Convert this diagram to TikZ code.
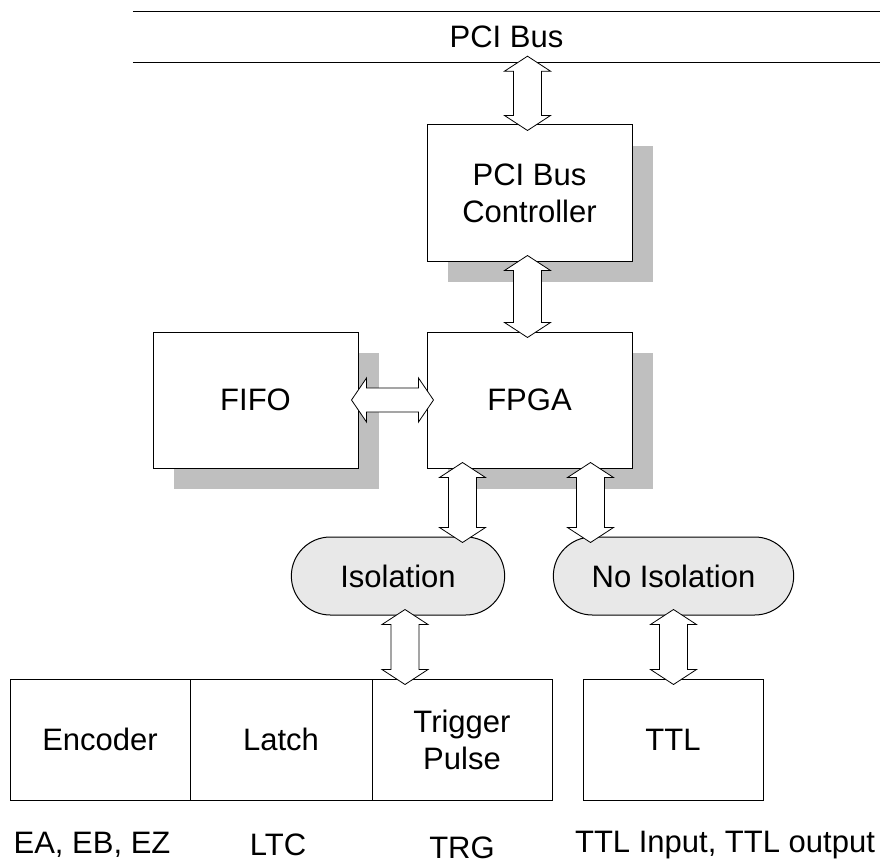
\documentclass[tikz,border=0pt]{standalone}
\usepackage{fontspec}
\setmainfont{Liberation Sans}
\usetikzlibrary{shapes.misc,shadows,calc}

% fat double arrows, tips reach a little into the boxes
\newcommand{\fatv}[2]{%
  \draw[fat] let \p1=#1, \p2=#2 in
    (\x1,\y1+6pt) -- (\x1+23pt,\y1-9pt) -- (\x1+14pt,\y1-9pt)
    -- (\x1+14pt,\y2+9pt) -- (\x1+23pt,\y2+9pt) -- (\x1,\y2-6pt)
    -- (\x1-23pt,\y2+9pt) -- (\x1-14pt,\y2+9pt) -- (\x1-14pt,\y1-9pt)
    -- (\x1-23pt,\y1-9pt) -- cycle;}
\newcommand{\fath}[2]{%
  \draw[fat] let \p1=#1, \p2=#2 in
    (\x1-7pt,\y1) -- (\x1+8pt,\y1+22pt) -- (\x1+8pt,\y1+12pt)
    -- (\x2-8pt,\y1+12pt) -- (\x2-8pt,\y1+22pt) -- (\x2+7pt,\y1)
    -- (\x2-8pt,\y1-22pt) -- (\x2-8pt,\y1-12pt) -- (\x1+8pt,\y1-12pt)
    -- (\x1+8pt,\y1-22pt) -- cycle;}

\begin{document}
\begin{tikzpicture}[x=1pt, y=-1pt, font=\fontsize{31}{37}\selectfont]
        \tikzset{boxes/.style={draw, line width=1pt, fill=white, minimum width=205pt, minimum height=136pt,
                     drop shadow={shadow xshift=21pt, shadow yshift=-21pt, fill=black!25, opacity=1}}}
        \tikzset{pills/.style={draw, line width=1pt, rounded rectangle, fill=gray!18, minimum height=78pt}}
        \tikzset{ports/.style={draw, line width=1pt, minimum height=121pt, align=center}}
        \tikzset{fat/.style={draw, line width=0.8pt, fill=white, line join=miter}}
        \useasboundingbox (0,0) rectangle (880,864);

        \node [minimum width=747pt, minimum height=50pt] (bus) at (506.5,37) {PCI Bus};
        \draw [line width=1pt] (bus.north west) -- (bus.north east);
        \draw [line width=1pt] (bus.south west) -- (bus.south east);

        \node [boxes, align=center] (ctrl) at (529.5,193) {PCI Bus\\Controller};
        \node [boxes]               (fifo) at (255.5,400) {FIFO};
        \node [boxes]               (fpga) at (529.5,400) {FPGA};

        \node [pills, minimum width=220pt] (iso)   at (398,576)   {Isolation};
        \node [pills, minimum width=247pt] (noiso) at (673.5,576) {No Isolation};

        \node [ports, minimum width=180pt] (enc)   at (100,739.5) {Encoder};
        \node [ports, minimum width=182pt] (latch) at (281,739.5) {Latch};
        \node [ports, minimum width=180pt] (trg)   at (462,739.5) {Trigger\\Pulse};
        \node [ports, minimum width=180pt] (ttl)   at (673,739.5) {TTL};

        \node (enc-sig)   at (92,845)  {EA, EB, EZ};
        \node (latch-sig) at (278,845) {LTC};
        \node (trg-sig)   at (462,848) {TRG};
        \node (ttl-sig)   at (725,845) {TTL Input, TTL output};

        \coordinate (a1) at ([xshift=-2pt]ctrl.north);
        \coordinate (a2) at ([xshift=-67pt]fpga.south);
        \coordinate (a3) at ([xshift=61pt]fpga.south);
        \coordinate (a4) at ([xshift=7pt]iso.south);

        \fatv{(a1 |- bus.south)}{(a1)}
        \fatv{([xshift=-2pt]ctrl.south)}{([xshift=-2pt]fpga.north)}
        \fath{(fifo.east)}{(fpga.west)}
        \fatv{(a2)}{(a2 |- iso.north)}
        \fatv{(a3)}{(a3 |- noiso.north)}
        \fatv{(a4)}{(a4 |- trg.north)}
        \fatv{(noiso.south)}{(noiso.south |- ttl.north)}
\end{tikzpicture}
\end{document}
